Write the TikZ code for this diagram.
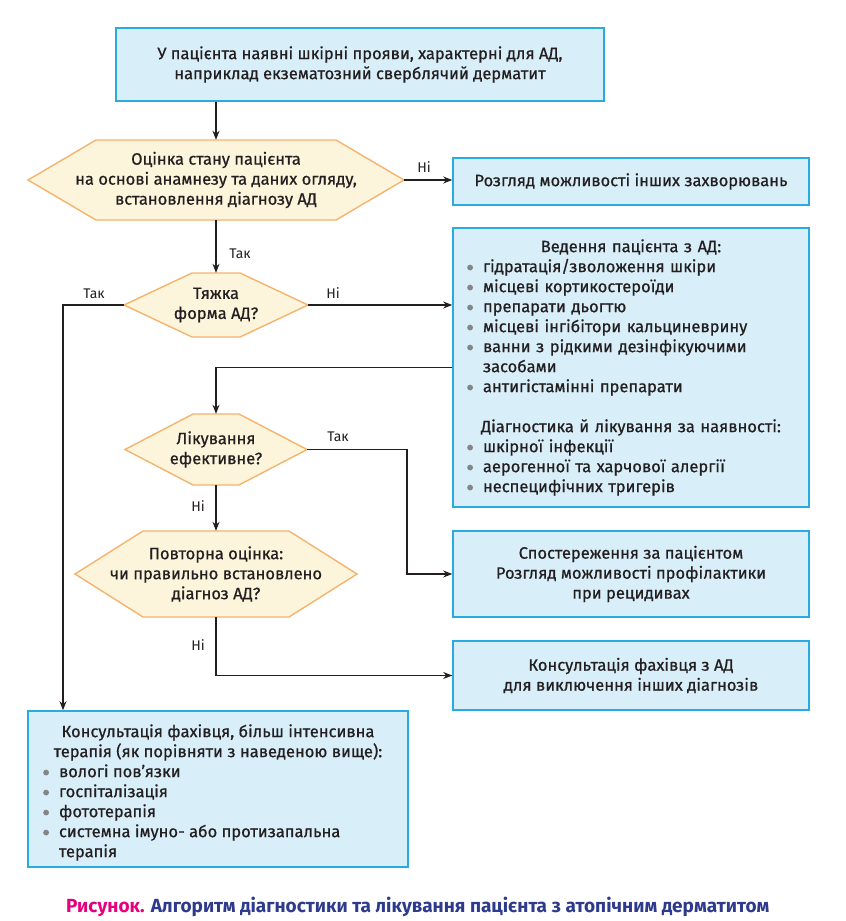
\documentclass[tikz,border=0pt]{standalone}
\usepackage{fontspec}
\setmainfont{Fira Sans}
\newfontfamily\medfont{Fira Sans}[FakeBold=0.7]
\usetikzlibrary{arrows.meta}
\definecolor{boxfill}{HTML}{D8EEF9}
\definecolor{boxline}{HTML}{29ABE2}
\definecolor{hexfill}{HTML}{FDF5DB}
\definecolor{hexline}{HTML}{F5B46E}
\definecolor{txt}{HTML}{231F20}
\definecolor{bulgray}{HTML}{858585}
\definecolor{capink}{HTML}{E6007E}
\definecolor{capblue}{HTML}{2E3A8C}
\newcommand\bl{\makebox[18pt][l]{\hspace{2.2pt}\tikz[baseline=0pt]\fill[bulgray] (0pt,4.6pt) circle (2.9pt);}}
\newcommand\hexnode[6]{%
 \filldraw[hexst] ({#2-#4},#3) -- ({#2-#4+68},{#3-#5}) -- ({#2+#4-68},{#3-#5}) -- ({#2+#4},#3) -- ({#2+#4-68},{#3+#5}) -- ({#2-#4+68},{#3+#5}) -- cycle;
 \node[hexlab, minimum width={2*#4}, minimum height={2*#5}] (#1) at (#2,#3) {#6};}
\tikzset{
 box/.style={draw=boxline, fill=boxfill, line width=1.6pt, inner sep=0pt, text=txt, font=\medfont\fontsize{16.5}{20}\selectfont, align=center},
 hexst/.style={draw=hexline, fill=hexfill, line width=1.4pt, line join=miter},
 hexlab/.style={inner sep=0pt, text=txt, font=\medfont\fontsize{16.5}{20}\selectfont, align=center},
 arr/.style={line width=1.3pt, draw=txt, -{Stealth[length=9pt,width=7pt]}},
 lab/.style={text=txt, font=\fontsize{14}{16}\selectfont, inner sep=0pt, anchor=base},
}
\begin{document}
\begin{tikzpicture}[x=1pt,y=-1pt]
\useasboundingbox[fill=white] (0,0) rectangle (846,921);
% boxes
\node[box, minimum width=488pt, minimum height=73pt] (b1) at (360,64.5) {У пацієнта наявні шкірні прояви, характерні для АД,\\наприклад екзематозний сверблячий дерматит};
\node[box, minimum width=356pt, minimum height=47pt] (b2) at (631,181.5) {Розгляд можливості інших захворювань};
\node[box, minimum width=356pt, minimum height=279pt, text width=332pt, align=left] (b3) at (631,367.5) {%
{\centering Ведення пацієнта з АД:\par}
\bl гідратація/зволоження шкіри\par
\bl місцеві кортикостероїди\par
\bl препарати дьогтю\par
\bl місцеві інгібітори кальциневрину\par
\bl ванни з рідкими дезінфікуючими\par
\hspace*{18pt}засобами\par
\bl антигістамінні препарати\par
\mbox{}\par
{\centering Діагностика й лікування за наявності:\par}
\bl шкірної інфекції\par
\bl аерогенної та харчової алергії\par
\bl неспецифічних тригерів\par};
\node[box, minimum width=356pt, minimum height=86pt] (b4) at (631,574) {Спостереження за пацієнтом\\Розгляд можливості профілактики\\при рецидивах};
\node[box, minimum width=356pt, minimum height=69pt] (b5) at (631,675.5) {Консультація фахівця з АД\\для виключення інших діагнозів};
\node[box, minimum width=380pt, minimum height=156pt] (b6) at (218,789) {%
\raisebox{-3.5pt}[\height][\depth]{\parbox{354pt}{\raggedright
{\centering Консультація фахівця, більш інтенсивна\\терапія (як порівняти з наведеною вище):\par}
\bl вологі пов’язки\par
\bl госпіталізація\par
\bl фототерапія\par
\bl системна імуно- або протизапальна\par
\hspace*{18pt}терапія\par}}};
% decisions
\hexnode{h1}{216}{180}{188}{40}{Оцінка стану пацієнта\\на основі анамнезу та даних огляду,\\встановлення діагнозу АД}
\hexnode{h2}{216}{305}{92}{32}{Тяжка\\форма АД?}
\hexnode{h3}{216}{449.5}{91}{35.5}{Лікування\\ефективне?}
\hexnode{h4}{216}{574}{141}{43}{Повторна оцінка:\\чи правильно встановлено\\діагноз АД?}
% connectors
\coordinate (c1) at (63,305);
\coordinate (c2) at (407,449.5);
\draw[arr] (h1.north |- b1.south) -- (h1.north);
\draw[arr] (h1.east) -- (h1.east -| b2.west);
\draw[arr] (h1.south) -- (h2.north);
\draw[arr] (h2.west) -- (c1) -- (c1 |- b6.north);
\draw[arr] (h2.east) -- (h2.east -| b3.west);
\draw[arr] (b3.west) -| (h3.north);
\draw[arr] (h3.east) -- (c2) |- (b4.west);
\draw[arr] (h3.south) -- (h4.north);
\draw[arr] (h4.south) |- (b5.west);
% labels
\node[lab] (l1) at (424,172) {Ні};
\node[lab] (l2) at (240,258) {Так};
\node[lab] (l3) at (94,298) {Так};
\node[lab] (l4) at (333,298) {Ні};
\node[lab] (l5) at (338,441) {Так};
\node[lab] (l6) at (198,511) {Ні};
\node[lab] (l7) at (198,650) {Ні};
% caption
\node[anchor=base west, inner sep=0pt, font=\fontsize{19}{21}\selectfont\bfseries] (cap) at (66,912) {\textcolor{capink}{Рисунок.} \textcolor{capblue}{Алгоритм діагностики та лікування пацієнта з атопічним дерматитом}};
\end{tikzpicture}
\end{document}
